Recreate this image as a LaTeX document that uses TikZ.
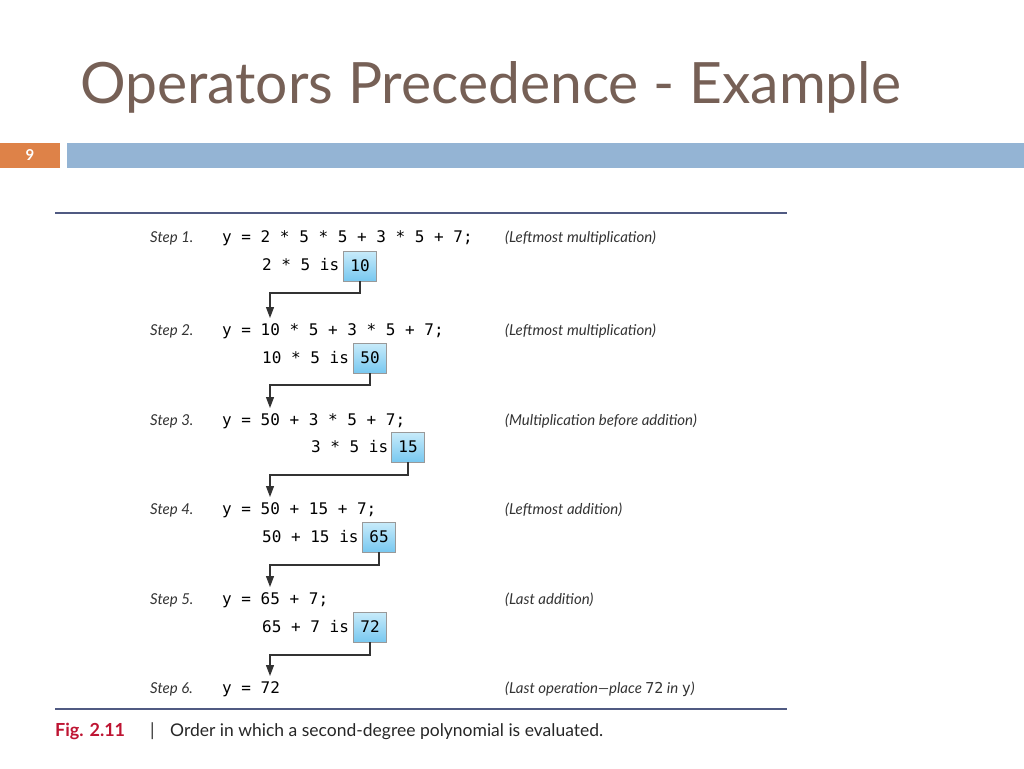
\documentclass[tikz,border=0pt]{standalone}
\usepackage{fontspec}
\setmainfont{Lato}
\newfontfamily\monof{DejaVu Sans Mono}
\usetikzlibrary{arrows.meta}
\definecolor{titlec}{RGB}{118,96,86}
\definecolor{orng}{RGB}{222,130,72}
\definecolor{barb}{RGB}{148,180,212}
\definecolor{rulec}{RGB}{80,90,130}
\definecolor{figred}{RGB}{190,20,50}
\definecolor{boxt}{RGB}{200,235,250}
\definecolor{boxb}{RGB}{120,200,240}
\begin{document}
\begin{tikzpicture}[x=1pt,y=-1pt,
  code/.style={anchor=base west,inner sep=0pt,font=\monof\fontsize{16}{18}\selectfont},
  lbl/.style={anchor=base west,inner sep=0pt,font=\fontsize{15}{16}\selectfont\itshape,text=black!80},
  res/.style={draw=black!40,top color=boxt,bottom color=boxb,minimum width=33pt,minimum height=30pt,inner sep=0pt,font=\monof\fontsize{16}{18}\selectfont},
  arr/.style={draw=black!80,line width=1.2pt,-{Triangle[length=11pt,width=8pt]}}]
\useasboundingbox (0,0) rectangle (1024,768);
\node[anchor=base west,inner sep=0pt,text=titlec,font=\fontsize{57}{60}\selectfont] (title) at (80,103) {Operators Precedence - Example};
\fill[orng] (0,143) rectangle (60,168);
\fill[barb] (67,143) rectangle (1024,168);
\node[text=white,font=\bfseries\fontsize{15}{16}\selectfont] (num) at (30,155) {9};
\draw[rulec,line width=1.5pt] (55,213) -- (787,213);
\draw[rulec,line width=1.5pt] (55,709) -- (787,709);
% rows
\node[lbl] (s1) at (150,242) {Step 1.};
\node[code] (e1) at (222,242) {y = 2 * 5 * 5 + 3 * 5 + 7;};
\node[lbl] (c1) at (505,242) {(Leftmost multiplication)};
\node[code] (p1) at (262,270) {2 * 5 is};
\node[res] (b1) at (360,266) {10};
\node[lbl] (s2) at (150,335) {Step 2.};
\node[code] (e2) at (222,335) {y = 10 * 5 + 3 * 5 + 7;};
\node[lbl] (c2) at (505,335) {(Leftmost multiplication)};
\node[code] (p2) at (262,363) {10 * 5 is};
\node[res] (b2) at (370,358) {50};
\node[lbl] (s3) at (150,425) {Step 3.};
\node[code] (e3) at (222,425) {y = 50 + 3 * 5 + 7;};
\node[lbl] (c3) at (505,425) {(Multiplication before addition)};
\node[code] (p3) at (311,452) {3 * 5 is};
\node[res] (b3) at (408,447) {15};
\node[lbl] (s4) at (150,514) {Step 4.};
\node[code] (e4) at (222,514) {y = 50 + 15 + 7;};
\node[lbl] (c4) at (505,514) {(Leftmost addition)};
\node[code] (p4) at (262,542) {50 + 15 is};
\node[res] (b4) at (379,537) {65};
\node[lbl] (s5) at (150,604) {Step 5.};
\node[code] (e5) at (222,604) {y = 65 + 7;};
\node[lbl] (c5) at (505,604) {(Last addition)};
\node[code] (p5) at (262,632) {65 + 7 is};
\node[res] (b5) at (370,627) {72};
\node[lbl] (s6) at (150,693) {Step 6.};
\node[code] (e6) at (222,693) {y = 72};
\node[lbl] (c6) at (505,693) {(Last operation---place {\upshape\monof 72} in {\upshape\monof y})};
\coordinate (t2) at (270,318);
\coordinate (t3) at (270,408);
\coordinate (t4) at (270,497);
\coordinate (t5) at (270,587);
\coordinate (t6) at (270,676);
\draw[arr] (b1.south) |- (270,293) -- (t2);
\draw[arr] (b2.south) |- (270,385) -- (t3);
\draw[arr] (b3.south) |- (270,475) -- (t4);
\draw[arr] (b4.south) |- (270,565) -- (t5);
\draw[arr] (b5.south) |- (270,655) -- (t6);
\node[anchor=base west,inner sep=0pt,text=figred,font=\bfseries\fontsize{18}{18}\selectfont] (fig) at (55,736) {Fig. 2.11};
\node[anchor=base west,inner sep=0pt,font=\fontsize{18}{18}\selectfont,text=black!80] (bar) at (150,736) {|};
\node[anchor=base west,inner sep=0pt,font=\fontsize{17.5}{18}\selectfont,text=black!85] (cap) at (170,736) {Order in which a second-degree polynomial is evaluated.};
\end{tikzpicture}
\end{document}
